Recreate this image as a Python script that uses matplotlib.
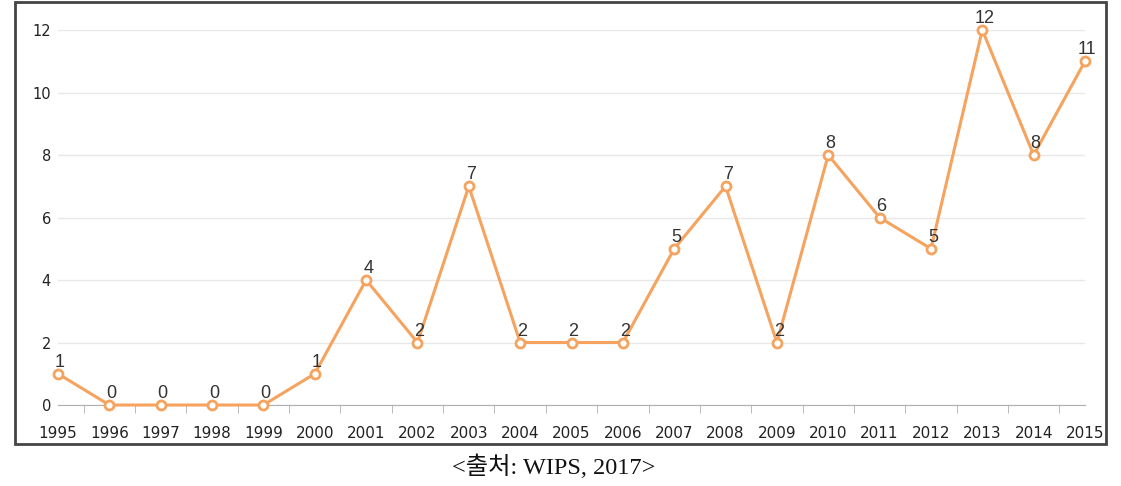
import matplotlib
matplotlib.use("Agg")
from matplotlib import pyplot as plt
from matplotlib.patches import Rectangle

plt.rcParams["font.family"] = ["DejaVu Sans"]

years = [1995, 1996, 1997, 1998, 1999, 2000, 2001, 2002, 2003, 2004, 2005,
         2006, 2007, 2008, 2009, 2010, 2011, 2012, 2013, 2014, 2015]
counts = [1, 0, 0, 0, 0, 1, 4, 2, 7, 2, 2, 2, 5, 7, 2, 8, 6, 5, 12, 8, 11]
yticks = [0, 2, 4, 6, 8, 10, 12]
caption = "<출처: WIPS, 2017>"

W, H = 1121, 486
fig = plt.figure(figsize=(W / 100, H / 100), dpi=100)

# outer frame around the chart
fig.patches.append(Rectangle((15 / W, 1 - 444 / H), (1106 - 15) / W, (444 - 2) / H,
                             transform=fig.transFigure, fill=False,
                             edgecolor="#444444", linewidth=2))

ax = fig.add_axes([58 / W, 1 - 405 / H, (1085 - 58) / W, (405 - 30) / H])
ax.set_xlim(1995, 2015)
ax.set_ylim(0, 12)

orange = "#F5A35E"
ax.plot(years, counts, color=orange, linewidth=2.2, marker="o", markersize=6.5,
        markerfacecolor="white", markeredgecolor=orange, markeredgewidth=2,
        clip_on=False, zorder=3)

for x, y in zip(years, counts):
    ax.annotate(str(y), (x, y), xytext=(1.5, 2), textcoords="offset points",
                ha="center", va="bottom", fontsize=13, color="#333333",
                family=["Liberation Sans"], zorder=4)

ax.set_yticks(yticks)
ax.set_xticks(years)
ax.set_xticks([y + 0.5 for y in years[:-1]], minor=True)
ax.grid(axis="y", color="#e8e8e8", linewidth=1)
ax.set_axisbelow(True)
for s in ["top", "right", "left"]:
    ax.spines[s].set_visible(False)
ax.spines["bottom"].set_color("#b0b0b0")
ax.tick_params(axis="x", which="major", length=0, pad=15, labelsize=11, colors="#222222")
ax.tick_params(axis="x", which="minor", length=6, color="#b0b0b0")
ax.tick_params(axis="y", length=0, pad=5, labelsize=10.5, colors="#222222")

fig.text(554 / W, 1 - 467 / H, caption, ha="center", va="center",
         fontsize=17.5, family=["Liberation Serif", "Noto Sans CJK KR"], color="#111111")

fig.savefig("out.png", dpi=100)
